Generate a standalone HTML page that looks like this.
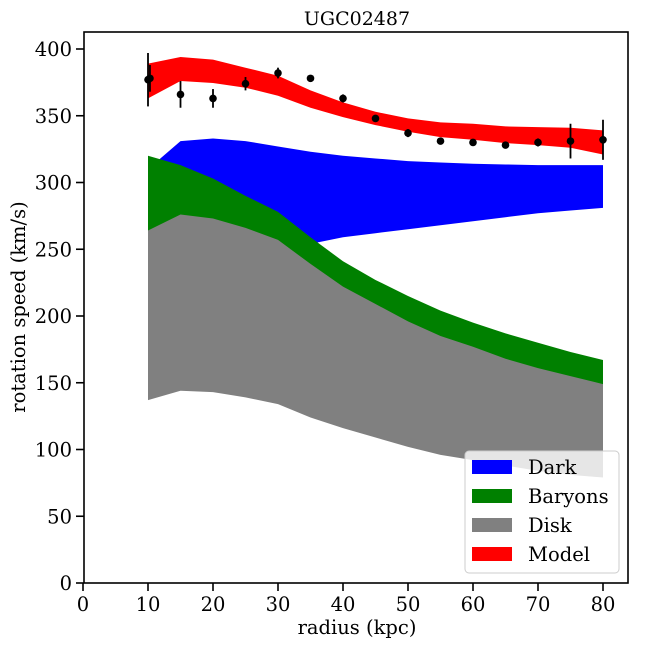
<!DOCTYPE html>
<html><head><meta charset="utf-8"><style>
html,body{margin:0;padding:0;background:#fff;}
svg{display:block;font-family:"DejaVu Serif","Liberation Serif",serif;}
</style></head><body>
<svg id="chart" width="648" height="648" viewBox="0 0 648 648">
<text x="357" y="25" text-anchor="middle" font-size="19">UGC02487</text>
<g id="bands"></g>
<g id="points"></g>
<rect x="84" y="32" width="544" height="551" fill="none" stroke="#000" stroke-width="1.6"/>
<g id="xticks"></g>
<g id="yticks"></g>
<text x="357" y="634" text-anchor="middle" font-size="19.5">radius (kpc)</text>
<text transform="translate(25,307) rotate(-90)" text-anchor="middle" font-size="19.5">rotation speed (km/s)</text>
<g>
<rect x="465" y="451" width="154" height="122" rx="4" fill="#fff" fill-opacity="0.8" stroke="#ccc"/>
<rect x="472" y="460" width="40" height="14" fill="#0000ff"/>
<text x="528" y="474" font-size="19.5">Dark</text>
<rect x="472" y="489" width="40" height="14" fill="#008000"/>
<text x="528" y="503" font-size="19.5">Baryons</text>
<rect x="472" y="518" width="40" height="14" fill="#808080"/>
<text x="528" y="532" font-size="19.5">Disk</text>
<rect x="472" y="547" width="40" height="14" fill="#ff0000"/>
<text x="528" y="561" font-size="19.5">Model</text>
</g>
</svg>
<script>
const radii = [10,15,20,25,30,35,40,45,50,55,60,65,70,75,80];
const darkHi = [310,331,333,331,327,323,320,318,316,315,314,313.5,313,313,313];
const darkLo = [190,215,230,240,248,254,259,262,265,268,271,274,277,279,281];
const baryHi = [320,313,303,290,278,259,241,227,215,204,195,187,180,173,167];
const baryLo = [200,205,200,190,180,165,150,140,132,126,120,115,112,109,107];
const diskHi = [264,276,273,266,257,239,222,209,196,185,177,168,161,155,149];
const diskLo = [137,144,143,139,134,124,116,109,102,96,92,88,84,81,79];
const modelHi = [389,394,392,386,380,369,360,353,348,345,344,342,341.5,341,339];
const modelLo = [363,376,374.5,371,365,356,349,343,338,334,332,329.5,328,326,321];
const obsR = [10,10.3,15,20,25,30,35,40,45,50,55,60,65,70,75,80];
const obsV = [377,378,366,363,374,382,378,363,348,337,331,330,328,330,331,332];
const obsErr = [20,10,10,7,5,4,1,3,2,3,1,1,1,3,13,15];
const xTicks = [0,10,20,30,40,50,60,70,80];
const yTicks = [0,50,100,150,200,250,300,350,400];

const NS='http://www.w3.org/2000/svg';
const X = r => 83 + r*6.5;
const Y = v => 583 - v*1.335;
function band(g, hi, lo, color, name){
  let d = 'M' + radii.map((r,i)=>X(r)+','+Y(hi[i])).join('L');
  for(let i=radii.length-1;i>=0;i--) d += 'L'+X(radii[i])+','+Y(lo[i]);
  d += 'Z';
  const p = document.createElementNS(NS,'path');
  p.setAttribute('d', d); p.setAttribute('fill', color);
  
  
  g.appendChild(p);
}
const bands = document.getElementById('bands');
band(bands, darkHi, darkLo, '#0000ff', 'dark-band');
band(bands, baryHi, baryLo, '#008000', 'baryons-band');
band(bands, diskHi, diskLo, '#808080', 'disk-band');
band(bands, modelHi, modelLo, '#ff0000', 'model-band');

const pts = document.getElementById('points');
obsR.forEach((r,i)=>{
  const l = document.createElementNS(NS,'line');
  l.setAttribute('x1',X(r)); l.setAttribute('x2',X(r));
  l.setAttribute('y1',Y(obsV[i]-obsErr[i])); l.setAttribute('y2',Y(obsV[i]+obsErr[i]));
  l.setAttribute('stroke','#000'); l.setAttribute('stroke-width','1.8');
  
  
  pts.appendChild(l);
  const c = document.createElementNS(NS,'circle');
  c.setAttribute('cx',X(r)); c.setAttribute('cy',Y(obsV[i])); c.setAttribute('r','3.8');
  c.setAttribute('fill','#000');
  
  
  pts.appendChild(c);
});

const xg = document.getElementById('xticks');
xTicks.forEach(t=>{
  const l = document.createElementNS(NS,'line');
  l.setAttribute('x1',X(t)); l.setAttribute('x2',X(t));
  l.setAttribute('y1',583); l.setAttribute('y2',591);
  l.setAttribute('stroke','#000'); l.setAttribute('stroke-width','1.6');
  
  
  xg.appendChild(l);
  const tx = document.createElementNS(NS,'text');
  tx.setAttribute('x',X(t)); tx.setAttribute('y',611);
  tx.setAttribute('text-anchor','middle'); tx.setAttribute('font-size','19.5');
  tx.textContent = t;
  
  
  xg.appendChild(tx);
});
const yg = document.getElementById('yticks');
yTicks.forEach(t=>{
  const l = document.createElementNS(NS,'line');
  l.setAttribute('x1',76); l.setAttribute('x2',84);
  l.setAttribute('y1',Y(t)); l.setAttribute('y2',Y(t));
  l.setAttribute('stroke','#000'); l.setAttribute('stroke-width','1.6');
  
  
  yg.appendChild(l);
  const tx = document.createElementNS(NS,'text');
  tx.setAttribute('x',72); tx.setAttribute('y',Y(t)+7);
  tx.setAttribute('text-anchor','end'); tx.setAttribute('font-size','19.5');
  tx.textContent = t;
  
  
  yg.appendChild(tx);
});
</script>
</body></html>
